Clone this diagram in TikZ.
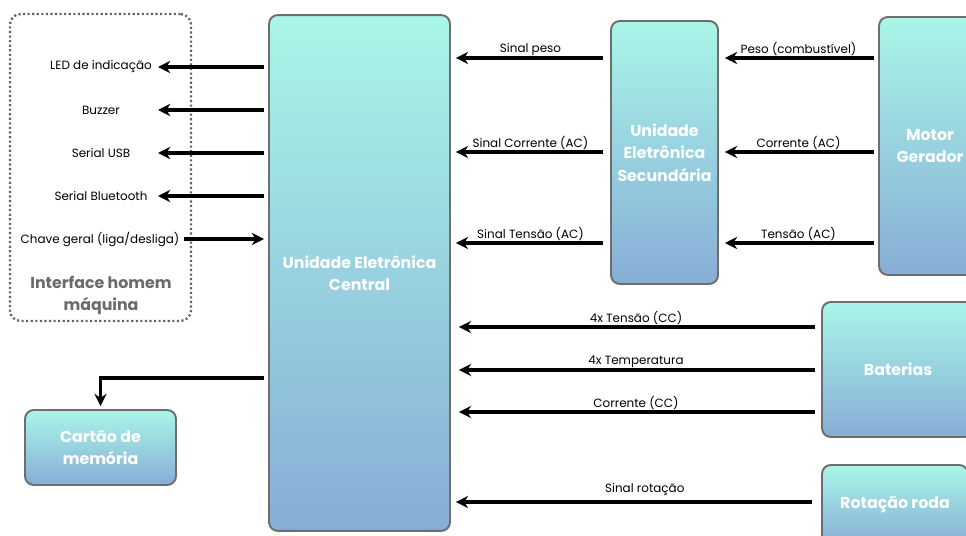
\documentclass[tikz,border=0pt]{standalone}
\usepackage{fontspec}
\setmainfont{Poppins}
\usetikzlibrary{arrows.meta}
\definecolor{topc}{HTML}{A9F6E8}
\definecolor{botc}{HTML}{87ADD6}
\definecolor{edgec}{HTML}{6E6E6E}
\definecolor{hmitext}{HTML}{6A6A6A}
\begin{document}
\begin{tikzpicture}[x=0.02cm,y=-0.02cm,
 blk/.style={draw=edgec,line width=1.1pt,rounded corners=5pt,top color=topc,bottom color=botc,
   text=white,font=\fontsize{9}{12.7}\selectfont\bfseries,align=center,inner sep=0pt},
 lbl/.style={font=\fontsize{6.8}{8}\selectfont,text=black,inner sep=0pt},
 arr/.style={line width=1.8pt,-{Stealth[length=7pt,width=7pt]}},
 alab/.style={lbl,above=0.4pt,midway}
]
\clip (0,0) rectangle (966,536);
\useasboundingbox (0,0) rectangle (966,536);

% boxes
\node[draw=edgec!90!black,line width=1.3pt,dash pattern=on 1.2pt off 1.4pt,rounded corners=6pt,minimum width=3.62cm,minimum height=6.14cm,inner sep=0pt] (hmi) at (100.5,167.5) {};
\node[blk,minimum width=3.62cm,minimum height=10.32cm] (cen) at (359.5,273) {Unidade Eletrônica\\Central};
\node[blk,minimum width=2.14cm,minimum height=5.26cm] (sec) at (664.5,152.5) {Unidade\\Eletrônica\\Secundária};
\node[blk,minimum width=2.04cm,minimum height=5.16cm] (mot) at (930,146) {Motor\\Gerador};
\node[blk,minimum width=3.04cm,minimum height=2.70cm] (bat) at (898,369.5) {Baterias};
\node[blk,minimum width=2.92cm,minimum height=1.60cm] (rot) at (895,505) {Rotação roda};
\node[blk,minimum width=3.02cm,minimum height=1.50cm] (mem) at (100.5,447.5) {Cartão de\\memória};

% HMI labels
\node[lbl] (led) at (101,67) {LED de indicação};
\node[lbl] (buz) at (101,110) {Buzzer};
\node[lbl] (usb) at (101,153) {Serial USB};
\node[lbl] (blu) at (101,196) {Serial Bluetooth};
\node[lbl] (chv) at (100,239) {Chave geral (liga/desliga)};
\node[font=\fontsize{9}{12.5}\selectfont\bfseries,text=hmitext,align=center,inner sep=0pt] (hmit) at (101,295) {Interface homem\\máquina};

\coordinate (tled) at (158,67);
\coordinate (tbuz) at (158,110);
\coordinate (tusb) at (158,153);
\coordinate (tblu) at (158,196);
\coordinate (schv) at (184,239);

\draw[arr,shorten <=2.3pt] (cen.west |- tled) -- (tled);
\draw[arr,shorten <=2.3pt] (cen.west |- tbuz) -- (tbuz);
\draw[arr,shorten <=2.3pt] (cen.west |- tusb) -- (tusb);
\draw[arr,shorten <=2.3pt] (cen.west |- tblu) -- (tblu);
\draw[arr,shorten >=2.3pt] (schv) -- (cen.west |- schv);

% memory
\draw[arr,shorten <=2.3pt,shorten >=1.7pt] (cen.west |- 0,378) -| (mem.north);

% secondary -> central
\draw[arr,shorten <=4pt,shorten >=2.8pt] (sec.west |- 0,58) -- node[alab]{Sinal peso} (cen.east |- 0,58);
\draw[arr,shorten <=4pt,shorten >=2.8pt] (sec.west |- 0,152) -- node[alab]{Sinal Corrente (AC)} (cen.east |- 0,152);
\draw[arr,shorten <=4pt,shorten >=2.8pt] (sec.west |- 0,243) -- node[alab]{Sinal Tensão (AC)} (cen.east |- 0,243);

% motor -> secondary
\draw[arr,shorten <=2.3pt,shorten >=3.4pt] (mot.west |- 0,58) -- node[alab]{Peso (combustível)} (sec.east |- 0,58);
\draw[arr,shorten <=2.3pt,shorten >=3.4pt] (mot.west |- 0,152) -- node[alab]{Corrente (AC)} (sec.east |- 0,152);
\draw[arr,shorten <=2.3pt,shorten >=3.4pt] (mot.west |- 0,243) -- node[alab]{Tensão (AC)} (sec.east |- 0,243);

% batteries -> central
\draw[arr,shorten <=3.4pt,shorten >=4.5pt] (bat.west |- 0,327) -- node[alab]{4x Tensão (CC)} (cen.east |- 0,327);
\draw[arr,shorten <=3.4pt,shorten >=4.5pt] (bat.west |- 0,370) -- node[alab]{4x Temperatura} (cen.east |- 0,370);
\draw[arr,shorten <=3.4pt,shorten >=4.5pt] (bat.west |- 0,412) -- node[alab]{Corrente (CC)} (cen.east |- 0,412);

% rotation -> central
\draw[arr,shorten <=5pt,shorten >=2.8pt] (rot.west |- 0,502) -- node[alab,above=2.5pt,xshift=5pt]{Sinal rotação} (cen.east |- 0,502);
\end{tikzpicture}
\end{document}
